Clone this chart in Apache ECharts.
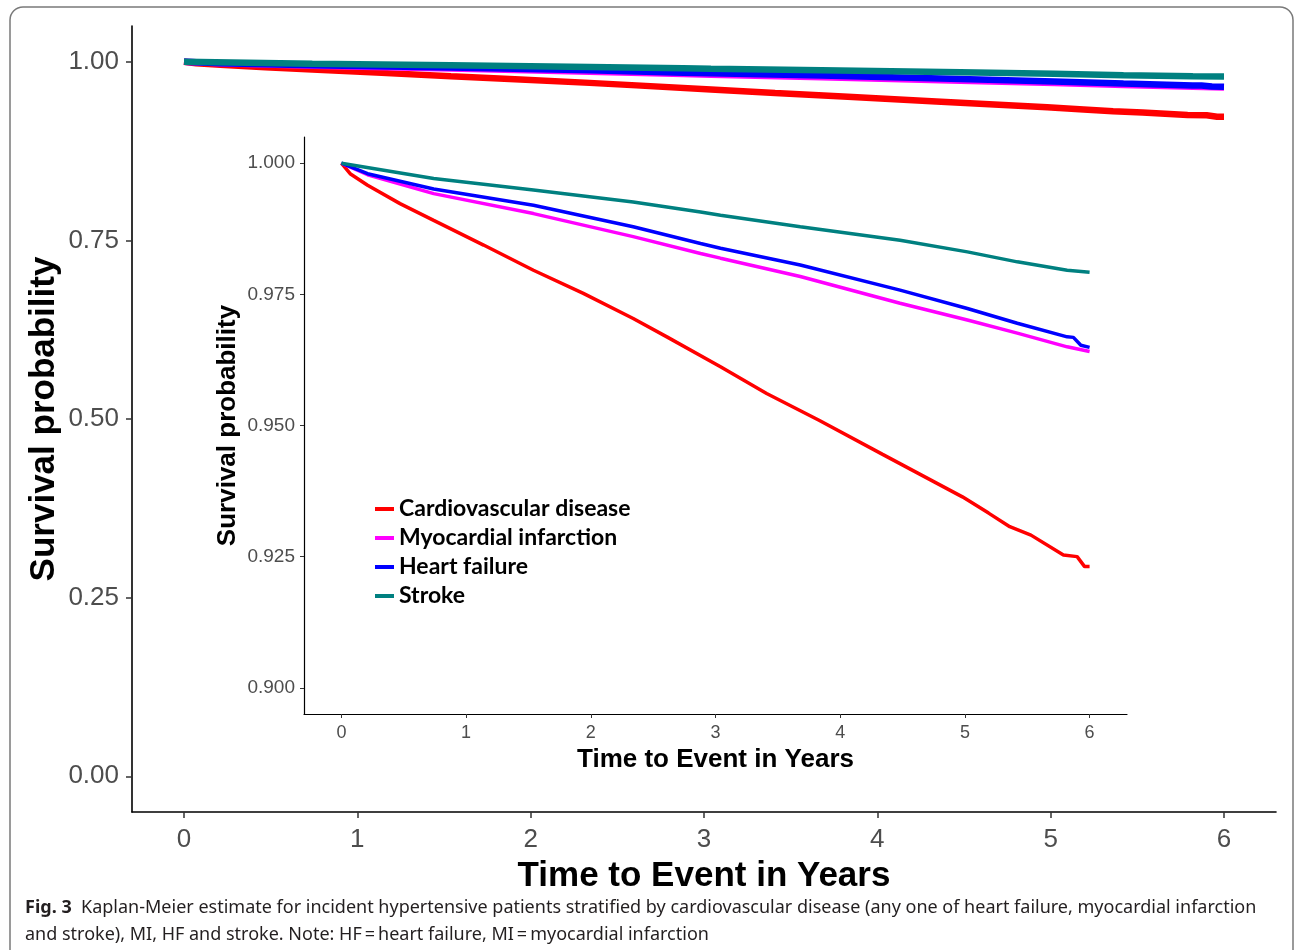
<!DOCTYPE html>
<html>
<head>
<meta charset="utf-8">
<script src="https://cdn.jsdelivr.net/npm/echarts@6/dist/echarts.min.js"></script>
<style>
html,body{margin:0;padding:0;background:#fff;}
#chart{width:1295px;height:950px;}
</style>
</head>
<body>
<div id="chart"></div>
<script>
// ---- data ----
const seriesNames = ['Cardiovascular disease', 'Myocardial infarction', 'Heart failure', 'Stroke'];
const seriesColors = ['#ff0000', '#ff00ff', '#0000ff', '#008080'];

const cvdT = [0, 0.07, 0.21, 0.47, 0.74, 1.14, 1.54, 1.94, 2.34, 2.61, 3.04, 3.41, 3.83, 4.34, 4.98, 5.19, 5.36, 5.53, 5.79, 5.90, 5.96, 6.0];
const cvdS = [1.0, 0.998, 0.9958, 0.9923, 0.9891, 0.9844, 0.9796, 0.9752, 0.9704, 0.9669, 0.9612, 0.9561, 0.9510, 0.9445, 0.9364, 0.9333, 0.9307, 0.9291, 0.9253, 0.9250, 0.9231, 0.9231];

const miT = [0, 0.21, 0.74, 1.54, 2.34, 2.88, 3.04, 3.68, 4.48, 5.02, 5.42, 5.82, 6.0];
const miS = [1.0, 0.9978, 0.9942, 0.9904, 0.9860, 0.9828, 0.9819, 0.9784, 0.9733, 0.9701, 0.9676, 0.9650, 0.9641];

const hfT = [0, 0.21, 0.74, 1.54, 2.34, 2.88, 3.04, 3.68, 4.48, 5.02, 5.42, 5.82, 5.87, 5.93, 6.0];
const hfS = [1.0, 0.9980, 0.9951, 0.9920, 0.9879, 0.9847, 0.9838, 0.9806, 0.9758, 0.9723, 0.9695, 0.9669, 0.9668, 0.9653, 0.9649];

const strokeT = [0, 0.74, 1.54, 2.34, 2.88, 3.04, 3.68, 4.48, 5.02, 5.42, 5.82, 6.0];
const strokeS = [1.0, 0.9971, 0.9949, 0.9926, 0.9907, 0.9901, 0.9879, 0.9853, 0.9831, 0.9812, 0.9796, 0.9792];

const xTicks = [0, 1, 2, 3, 4, 5, 6];
const outerYTicks = [0, 0.25, 0.5, 0.75, 1.0];
const insetYTicks = [0.900, 0.925, 0.950, 0.975, 1.000];

const captionBold = 'Fig. 3';
const captionLine1 = 'Kaplan-Meier estimate for incident hypertensive patients stratified by cardiovascular disease (any one of heart failure, myocardial infarction';
const captionLine2 = 'and stroke), MI, HF and stroke. Note: HF\u2009=\u2009heart failure, MI\u2009=\u2009myocardial infarction';

// ---- build ----
const allT = [cvdT, miT, hfT, strokeT];
const allS = [cvdS, miS, hfS, strokeS];
function pairs(i) { return allT[i].map((t, k) => [t, allS[i][k]]); }

const chart = echarts.init(document.getElementById('chart'), null, {renderer: 'canvas'});

const tickFont = 'Liberation Sans, Arial, sans-serif';
const series = [];
for (let g = 0; g < 2; g++) {
  for (let i = 0; i < 4; i++) {
    series.push({
      name: seriesNames[i],
      type: 'line',
      xAxisIndex: g, yAxisIndex: g,
      data: pairs(i),
      showSymbol: false,
      symbol: 'none',
      smooth: false,
      lineStyle: {color: seriesColors[i], width: g === 0 ? 6.5 : 3.5},
      itemStyle: {color: seriesColors[i]},
      z: 2 + i,
      silent: true,
      animation: false
    });
  }
}

const option = {
  backgroundColor: '#ffffff',
  animation: false,
  grid: [
    {left: 132, top: 26, width: 1144, height: 786, containLabel: false},
    {left: 304, top: 137, width: 823, height: 577, containLabel: false}
  ],
  xAxis: [
    {
      type: 'value', gridIndex: 0, min: -0.3, max: 6.3,
      splitLine: {show: false},
      axisLine: {show: true, onZero: false, lineStyle: {color: '#000', width: 1.6}},
      axisTick: {show: true, customValues: xTicks, length: 6, lineStyle: {color: '#333', width: 1.5}},
      axisLabel: {customValues: xTicks, fontSize: 26, color: '#4d4d4d', fontFamily: tickFont, margin: 15},
      name: 'Time to Event in Years', nameLocation: 'middle', nameGap: 47,
      nameTextStyle: {fontSize: 35, fontWeight: 'bold', color: '#000', fontFamily: tickFont}
    },
    {
      type: 'value', gridIndex: 1, min: -0.3, max: 6.3,
      splitLine: {show: false},
      axisLine: {show: true, onZero: false, lineStyle: {color: '#000', width: 1.2}},
      axisTick: {show: true, customValues: xTicks, length: 4, lineStyle: {color: '#333', width: 1}},
      axisLabel: {customValues: xTicks, fontSize: 18, color: '#4d4d4d', fontFamily: tickFont, margin: 10},
      name: 'Time to Event in Years', nameLocation: 'middle', nameGap: 33,
      nameTextStyle: {fontSize: 26, fontWeight: 'bold', color: '#000', fontFamily: tickFont}
    }
  ],
  yAxis: [
    {
      type: 'value', gridIndex: 0, min: -0.05, max: 1.05,
      splitLine: {show: false},
      axisLine: {show: true, onZero: false, lineStyle: {color: '#000', width: 1.6}},
      axisTick: {show: true, customValues: outerYTicks, length: 6, lineStyle: {color: '#333', width: 1.5}},
      axisLabel: {customValues: outerYTicks, fontSize: 26, color: '#4d4d4d', fontFamily: tickFont, margin: 13,
                  formatter: v => v.toFixed(2)},
      name: 'Survival probability', nameLocation: 'middle', nameGap: 70, nameMoveOverlap: false,
      nameTextStyle: {fontSize: 35, fontWeight: 'bold', color: '#000', fontFamily: tickFont}
    },
    {
      type: 'value', gridIndex: 1, min: 0.895, max: 1.005,
      splitLine: {show: false},
      axisLine: {show: true, onZero: false, lineStyle: {color: '#000', width: 1.2}},
      axisTick: {show: true, customValues: insetYTicks, length: 4, lineStyle: {color: '#333', width: 1}},
      axisLabel: {customValues: insetYTicks, fontSize: 19, color: '#4d4d4d', fontFamily: tickFont, margin: 9,
                  formatter: v => v.toFixed(3)},
      name: 'Survival probability', nameLocation: 'middle', nameGap: 63, nameMoveOverlap: false,
      nameTextStyle: {fontSize: 26, fontWeight: 'bold', color: '#000', fontFamily: tickFont}
    }
  ],
  legend: {
    orient: 'vertical', left: 370, top: 492,
    data: seriesNames,
    icon: 'rect', itemWidth: 19, itemHeight: 4, itemGap: 5,
    textStyle: {fontSize: 23, lineHeight: 24, fontWeight: 'bold', color: '#000',
                fontFamily: "'Liberation Sans Narrow', Lato, sans-serif"},
    selectedMode: false
  },
  graphic: [
    {type: 'rect', shape: {x: 10, y: 7, width: 1283, height: 970, r: 13},
     style: {fill: 'none', stroke: '#7a7a7a', lineWidth: 1.5}, silent: true, z: 100},
    {type: 'text', left: 25, top: 899,
     style: {text: '{b|' + captionBold + '}  ' + captionLine1,
             rich: {b: {fontWeight: 'bold', fontSize: 18, fontFamily: "'Noto Sans', sans-serif", fill: '#231f20'}},
             fontSize: 18, fontFamily: "'Noto Sans', sans-serif", fill: '#231f20'}},
    {type: 'text', left: 25, top: 926,
     style: {text: captionLine2, fontSize: 18, fontFamily: "'Noto Sans', sans-serif", fill: '#231f20'}}
  ],
  series: series
};
chart.setOption(option);
</script>
</body>
</html>
